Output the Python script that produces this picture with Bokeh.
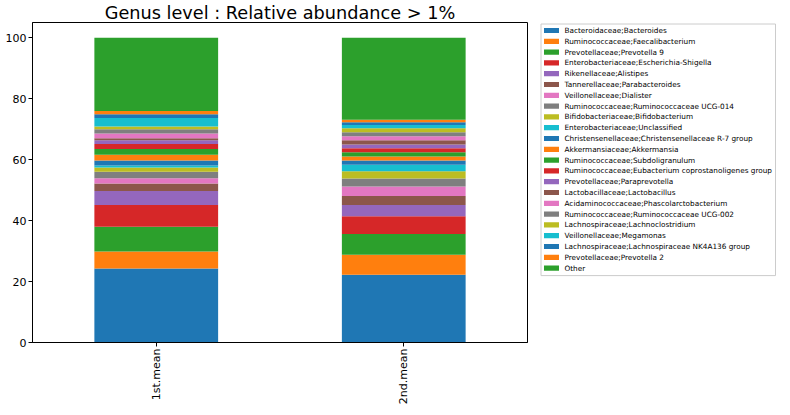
from math import pi
from bokeh.plotting import figure
from bokeh.layouts import row
from bokeh.models import (ColumnDataSource, FactorRange, Range1d, FixedTicker)
from bokeh.core.properties import value
from bokeh.embed import file_html
from bokeh.resources import INLINE

categories = ["1st.mean", "2nd.mean"]

genera = [
    "Bacteroidaceae;Bacteroides",
    "Ruminococcaceae;Faecalibacterium",
    "Prevotellaceae;Prevotella 9",
    "Enterobacteriaceae;Escherichia-Shigella",
    "Rikenellaceae;Alistipes",
    "Tannerellaceae;Parabacteroides",
    "Veillonellaceae;Dialister",
    "Ruminococcaceae;Ruminococcaceae UCG-014",
    "Bifidobacteriaceae;Bifidobacterium",
    "Enterobacteriaceae;Unclassified",
    "Christensenellaceae;Christensenellaceae R-7 group",
    "Akkermansiaceae;Akkermansia",
    "Ruminococcaceae;Subdoligranulum",
    "Ruminococcaceae;Eubacterium coprostanoligenes group",
    "Prevotellaceae;Paraprevotella",
    "Lactobacillaceae;Lactobacillus",
    "Acidaminococcaceae;Phascolarctobacterium",
    "Ruminococcaceae;Ruminococcaceae UCG-002",
    "Lachnospiraceae;Lachnoclostridium",
    "Veillonellaceae;Megamonas",
    "Lachnospiraceae;Lachnospiraceae NK4A136 group",
    "Prevotellaceae;Prevotella 2",
    "Other",
]

mean_1st = [24.3, 5.6, 8.1, 7.1, 4.6, 2.5, 1.7, 2.1, 1.4, 0.7, 1.6, 1.9,
            1.9, 1.6, 1.3, 0.6, 1.6, 1.4, 0.9, 2.8, 1.2, 1.1, 24.0]
mean_2nd = [22.2, 6.6, 6.8, 5.8, 3.7, 3.0, 3.1, 2.6, 2.4, 2.1, 1.4, 1.3,
            1.4, 1.3, 1.3, 1.4, 1.3, 1.3, 1.3, 1.1, 0.9, 0.8, 26.9]

y_ticks = [0, 20, 40, 60, 80, 100]

tab10 = ["#1f77b4", "#ff7f0e", "#2ca02c", "#d62728", "#9467bd",
         "#8c564b", "#e377c2", "#7f7f7f", "#bcbd22", "#17becf"]
colors = [tab10[i % 10] for i in range(len(genera))]

data = {"sample": categories}
for g, a, b in zip(genera, mean_1st, mean_2nd):
    data[g] = [a, b]
src = ColumnDataSource(data)

FONT = "DejaVu Sans"

# ---------------- main chart ----------------
p = figure(x_range=FactorRange(*categories, range_padding=0),
           y_range=Range1d(0, 105),
           frame_width=495, frame_height=320,
           min_border_left=32, min_border_top=0, min_border_right=1,
           min_border_bottom=0,
           title="Genus level : Relative abundance > 1%",
           output_backend="svg", toolbar_location=None)

p.title.align = "center"
p.title.text_font = FONT
p.title.text_font_size = "17.7px"
p.title.text_font_style = "normal"
p.title.text_color = "black"
p.title.standoff = 0

p.vbar_stack(genera, x="sample", width=0.5, source=src,
             fill_color=colors, line_color=None)

for ax in (p.xaxis[0], p.yaxis[0]):
    ax.axis_line_color = "black"
    ax.axis_line_width = 1
    ax.major_tick_line_color = "black"
    ax.major_tick_out = 4
    ax.major_tick_in = 0
    ax.minor_tick_out = 0
    ax.minor_tick_in = 0
    ax.major_label_text_font = FONT
    ax.major_label_text_font_size = "11px"
    ax.major_label_text_color = "black"
    ax.major_label_standoff = 2

p.yaxis[0].ticker = FixedTicker(ticks=y_ticks)
p.xaxis.major_label_orientation = pi / 2
p.xgrid.visible = False
p.ygrid.visible = False
p.outline_line_color = "black"
p.outline_line_width = 1
p.outline_line_alpha = 1

# ---------------- legend panel (pixel coordinates, y downwards) ----------------
# (its frame is aligned by the row layout with the chart's frame top)
LW, LH = 248, 300
lg = figure(frame_width=LW, frame_height=LH,
            x_range=Range1d(0, LW), y_range=Range1d(LH, 0),
            x_axis_type=None, y_axis_type=None,
            min_border_left=0, min_border_right=0, min_border_top=0,
            min_border_bottom=0, output_backend="svg", toolbar_location=None)
lg.min_border = 0
lg.outline_line_color = None

box_left, box_right, box_top = 12.5, 247.0, 1.5
pitch = 10.8
first = 8.0
n = len(genera)
box_bottom = first + pitch * (n - 1) + 7.5

lg.quad(left=[box_left], right=[box_right], top=[box_top], bottom=[box_bottom],
        fill_color="white", line_color="#cccccc", line_width=1)

ys = [first + pitch * i for i in range(n)]
leg_src = ColumnDataSource(dict(y=ys, label=genera, color=colors))
lg.rect(x=23, y="y", width=15, height=5.2, source=leg_src,
        fill_color="color", line_color=None)
lg.text(x=36, y="y", text="label", source=leg_src,
        text_font=value(FONT), text_font_size="7.3px",
        text_baseline="middle", text_align="left", text_color="black")

layout = row(p, lg, spacing=0)
open("out.html", "w").write(file_html(layout, INLINE))
